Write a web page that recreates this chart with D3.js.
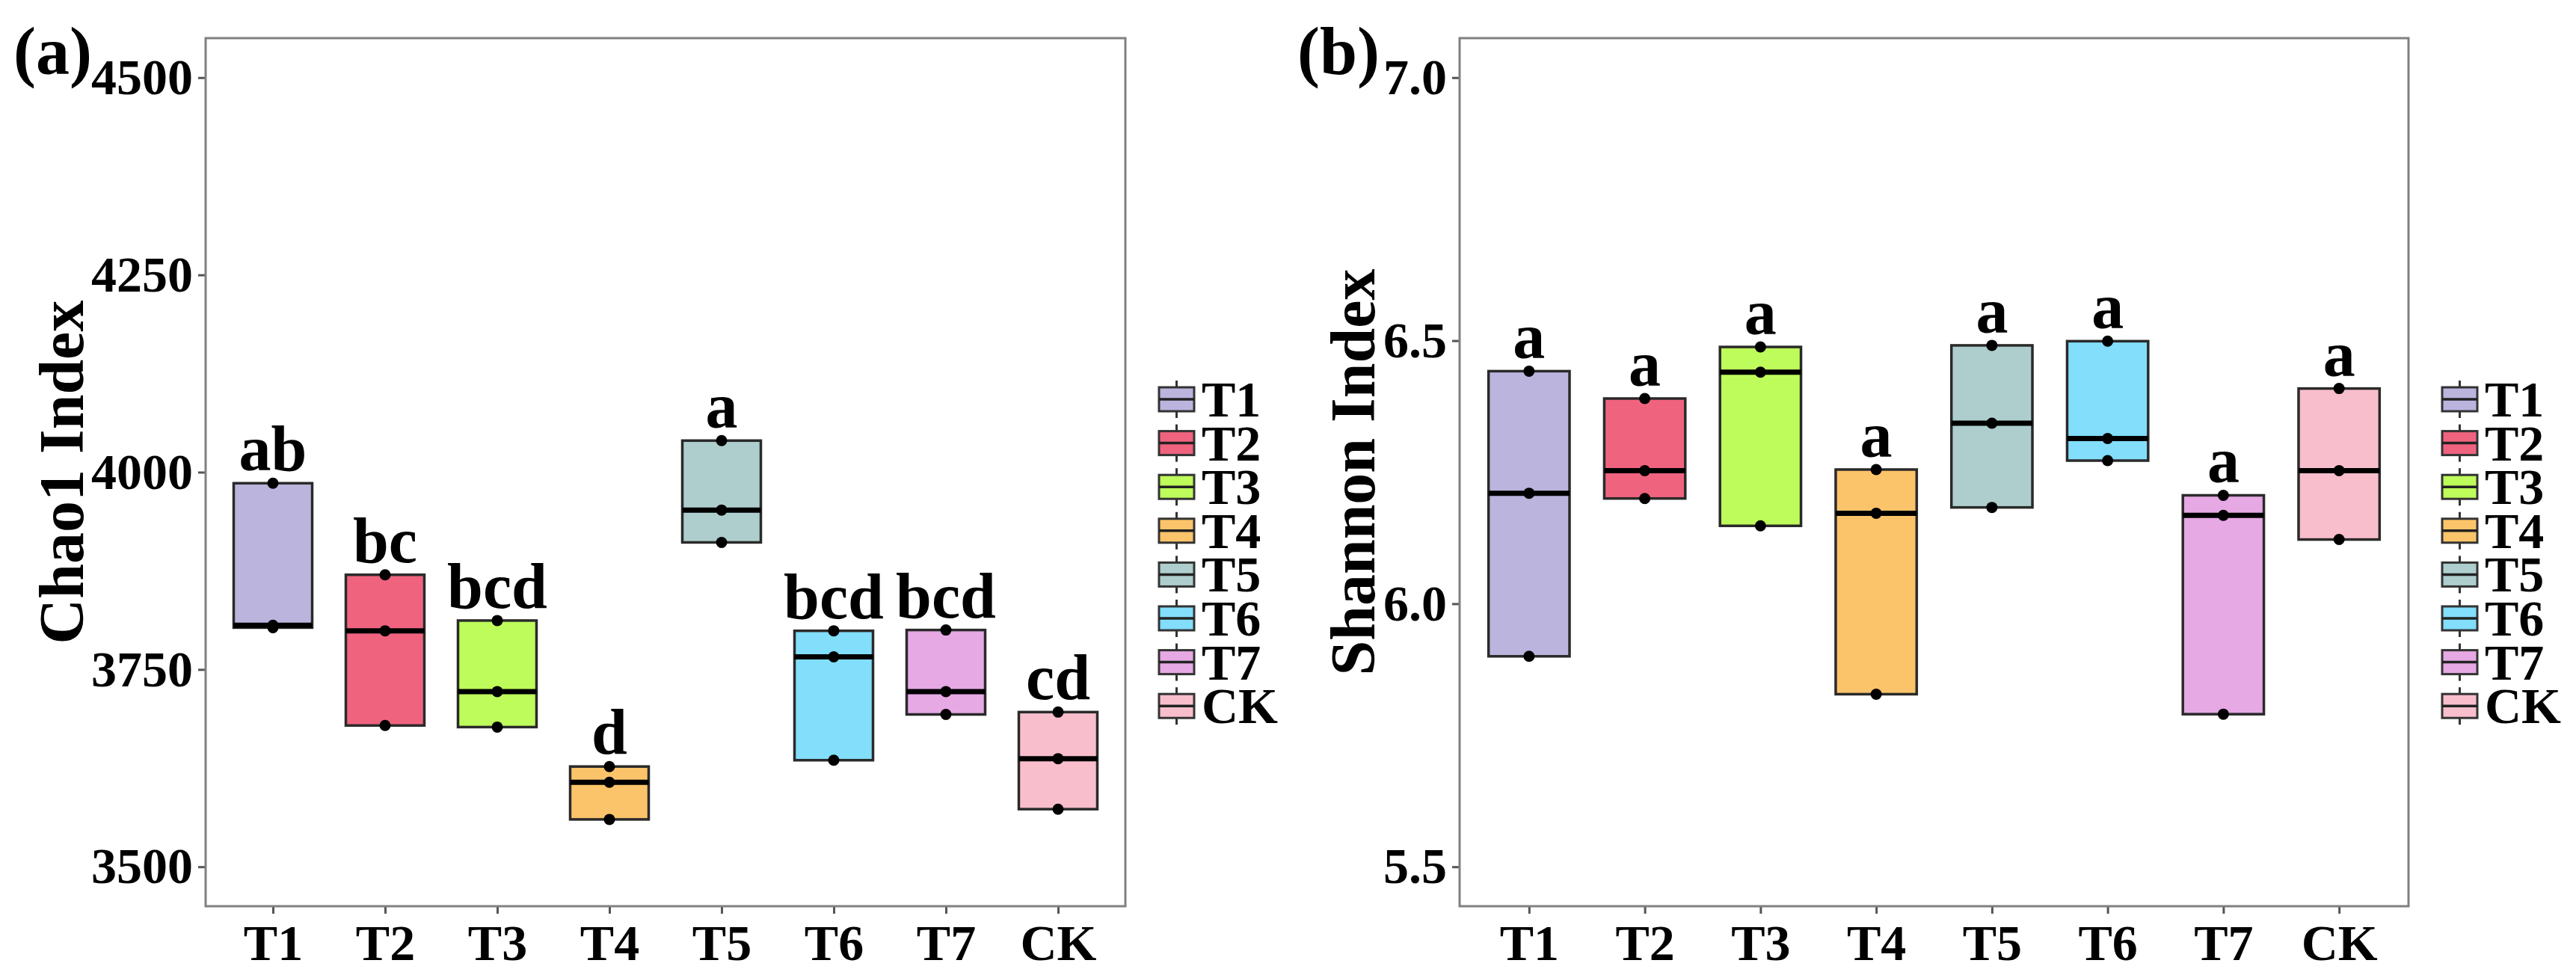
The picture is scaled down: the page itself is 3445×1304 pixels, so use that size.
<!DOCTYPE html>
<html lang="en">
<head>
<meta charset="utf-8">
<title>Chao1 and Shannon index boxplots</title>
<script src="https://cdn.jsdelivr.net/npm/d3@7"></script>
<style>
  body { margin: 0; background: #fff; }
  text { font-family: "Liberation Serif", "Times New Roman", serif; font-weight: bold; fill: #000; }
</style>
</head>
<body>
<script>
// groups and colours
var groups = ["T1", "T2", "T3", "T4", "T5", "T6", "T7", "CK"];
var colors = ["#BBB5DE", "#F0637F", "#BEFC5B", "#FCC46A", "#AECECD", "#82DEFB", "#E6A9E4", "#F9BECC"];

// Chao1 replicates
var chao1Values = [
  [3986, 3806, 3803],
  [3870, 3799, 3679],
  [3812, 3722, 3677],
  [3627, 3607, 3560],
  [4040, 3952, 3911],
  [3799, 3766, 3635],
  [3800, 3722, 3693],
  [3696, 3637, 3573]
];
var chao1Letters = ["ab", "bc", "bcd", "d", "a", "bcd", "bcd", "cd"];
var chao1Ticks = [3500, 3750, 4000, 4250, 4500];

// Shannon replicates
var shannonValues = [
  [6.442, 6.210, 5.900],
  [6.390, 6.253, 6.200],
  [6.488, 6.440, 6.148],
  [6.255, 6.172, 5.828],
  [6.491, 6.343, 6.183],
  [6.499, 6.314, 6.272],
  [6.206, 6.168, 5.790],
  [6.409, 6.253, 6.122]
];
var shannonLetters = ["a", "a", "a", "a", "a", "a", "a", "a"];
var shannonTicks = [5.5, 6.0, 6.5, 7.0];

var W = 3445, H = 1304;
var plotTop = 51, plotBottom = 1212;

var svg = d3.select("body").append("svg")
  .attr("width", W).attr("height", H);
svg.append("rect").attr("width", W).attr("height", H).attr("fill", "#fff");

function drawPanel(p) {
  var g = svg.append("g");

  var x = d3.scalePoint().domain(groups).range([p.left, p.right]).padding(0.6);
  var y = d3.scaleLinear().domain(p.domain).range([plotBottom, plotTop]);
  var step = x.step();
  var bw = step * 0.7;

  // y axis
  var ya = g.append("g")
    .attr("transform", "translate(" + p.left + ",0)")
    .call(d3.axisLeft(y).tickValues(p.ticks).tickSize(10).tickPadding(7).tickFormat(p.fmt));
  ya.select(".domain").remove();
  ya.selectAll(".tick line").attr("stroke", "#555").attr("stroke-width", 3);
  ya.selectAll(".tick text").attr("font-size", 68).attr("fill", "#000");

  // x axis
  var xa = g.append("g")
    .attr("transform", "translate(0," + plotBottom + ")")
    .call(d3.axisBottom(x).tickSize(10).tickPadding(14));
  xa.select(".domain").remove();
  xa.selectAll(".tick line").attr("stroke", "#555").attr("stroke-width", 3);
  xa.selectAll(".tick text").attr("font-size", 68).attr("fill", "#000");

  // boxes
  var boxes = g.selectAll("g.box")
    .data(p.values)
    .enter().append("g")
    .attr("class", "box");

  boxes.append("rect")
    .attr("x", function(d, i) { return x(groups[i]) - bw / 2; })
    .attr("y", function(d) { return y(d3.max(d)); })
    .attr("width", bw)
    .attr("height", function(d) { return y(d3.min(d)) - y(d3.max(d)); })
    .attr("fill", function(d, i) { return colors[i]; })
    .attr("stroke", "#2a2a2a")
    .attr("stroke-width", 3.5);

  boxes.append("line")
    .attr("x1", function(d, i) { return x(groups[i]) - bw / 2; })
    .attr("x2", function(d, i) { return x(groups[i]) + bw / 2; })
    .attr("y1", function(d) { return y(d3.median(d)); })
    .attr("y2", function(d) { return y(d3.median(d)); })
    .attr("stroke", "#000")
    .attr("stroke-width", 7);

  boxes.each(function(d, i) {
    d3.select(this).selectAll("circle")
      .data(d)
      .enter().append("circle")
      .attr("cx", x(groups[i]))
      .attr("cy", function(v) { return y(v); })
      .attr("r", 7.5)
      .attr("fill", "#000");
  });

  // significance letters
  g.selectAll("text.letter")
    .data(p.letters)
    .enter().append("text")
    .attr("class", "letter")
    .attr("x", function(d, i) { return x(groups[i]); })
    .attr("y", function(d, i) { return y(d3.max(p.values[i])) - 17; })
    .attr("text-anchor", "middle")
    .attr("font-size", 86)
    .text(function(d) { return d; });

  // panel border
  g.append("rect")
    .attr("x", p.left).attr("y", plotTop)
    .attr("width", p.right - p.left).attr("height", plotBottom - plotTop)
    .attr("fill", "none")
    .attr("stroke", "#808080")
    .attr("stroke-width", 3);

  // y title
  g.append("text")
    .attr("transform", "translate(" + p.titleX + "," + (plotTop + plotBottom) / 2 + ") rotate(-90)")
    .attr("text-anchor", "middle")
    .attr("font-size", 84)
    .text(p.title);

  // panel tag
  g.append("text")
    .attr("x", p.tagX).attr("y", 99)
    .attr("font-size", 90)
    .text(p.tag);

  // legend
  var kx = p.right + 45, kw = 47, kh = 32;
  var leg = g.selectAll("g.key")
    .data(groups)
    .enter().append("g")
    .attr("class", "key")
    .attr("transform", function(d, i) { return "translate(" + kx + "," + (534 + i * 58.6) + ")"; });
  leg.append("line")
    .attr("x1", kw / 2).attr("x2", kw / 2)
    .attr("y1", -25).attr("y2", 25)
    .attr("stroke", "#333").attr("stroke-width", 3);
  leg.append("rect")
    .attr("x", 0).attr("y", -kh / 2)
    .attr("width", kw).attr("height", kh)
    .attr("fill", function(d, i) { return colors[i]; })
    .attr("stroke", "#333").attr("stroke-width", 3);
  leg.append("line")
    .attr("x1", 0).attr("x2", kw)
    .attr("y1", 0).attr("y2", 0)
    .attr("stroke", "#222").attr("stroke-width", 3.5);
  leg.append("text")
    .attr("x", kw + 10)
    .attr("y", 23)
    .attr("font-size", 68)
    .text(function(d) { return d; });
}

drawPanel({
  left: 275, right: 1505,
  domain: [3450, 4550], ticks: chao1Ticks, fmt: d3.format("d"),
  values: chao1Values, letters: chao1Letters,
  title: "Chao1 Index", titleX: 111,
  tag: "(a)", tagX: 18
});

drawPanel({
  left: 1952, right: 3221,
  domain: [5.425, 7.075], ticks: shannonTicks, fmt: d3.format(".1f"),
  values: shannonValues, letters: shannonLetters,
  title: "Shannon Index", titleX: 1838,
  tag: "(b)", tagX: 1735
});
</script>
</body>
</html>
